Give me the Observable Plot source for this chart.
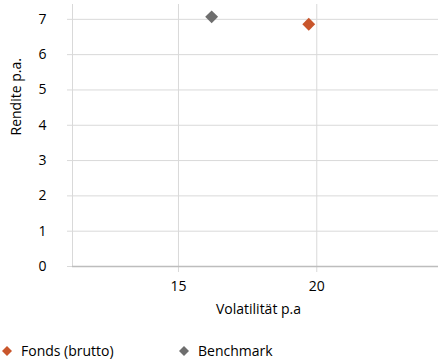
<!DOCTYPE html>
<html>
<head>
<meta charset="utf-8">
<script src="https://cdn.jsdelivr.net/npm/d3@7"></script>
<script src="https://cdn.jsdelivr.net/npm/@observablehq/plot@0.6"></script>
<style>
  body { margin: 0; background: #fff; font-family: "Open Sans", sans-serif; }
  #chart svg { display: block; }
  .legend { position: relative; height: 20px; padding-top: 1px; font-size: 14px; color: #000; }
  .legend .item { position: absolute; top: 1px; line-height: 20px; display: flex; align-items: center; }
  .legend svg { margin-right: 8px; }
</style>
</head>
<body>
<div id="chart"></div>
<div class="legend" id="legend"></div>
<script>
const series = ["Fonds (brutto)", "Benchmark"];
const volatility = [19.71, 16.2];
const returns = [6.86, 7.07];
const colors = ["#C9562C", "#6E6E6E"];
const yTicks = [0, 1, 2, 3, 4, 5, 6, 7];
const xTicks = [15, 20];
const xLabel = "Volatilität p.a";
const yLabel = "Rendite p.a.";

const data = series.map((s, i) => ({series: s, vol: volatility[i], ret: returns[i]}));
const xDomain = [11.17, 24.4];
const yDomain = [0, 7.42];

const chart = Plot.plot({
  width: 439,
  height: 340,
  marginLeft: 72,
  marginRight: 1,
  marginTop: 4,
  marginBottom: 74,
  style: {fontFamily: "'Open Sans', sans-serif", fontSize: "14px", color: "#000", background: "#fff"},
  x: {domain: xDomain},
  y: {domain: yDomain},
  color: {domain: series, range: colors},
  marks: [
    Plot.gridY(yTicks, {stroke: "#d9d9d9", strokeOpacity: 1}),
    Plot.gridX(xTicks, {stroke: "#d9d9d9", strokeOpacity: 1}),
    Plot.axisY(yTicks, {tickSize: 5, tickPadding: 21, stroke: "#d9d9d9", fill: "#000", label: null, tickFormat: d => d}),
    Plot.axisX(xTicks, {tickSize: 6, tickPadding: 9, stroke: "#d9d9d9", fill: "#000", label: null, tickFormat: d => d}),
    Plot.ruleX([xDomain[0]], {stroke: "#d9d9d9"}),
    Plot.ruleY([0], {stroke: "#bdbdbd", strokeWidth: 1.5}),
    Plot.dot(data, {x: "vol", y: "ret", symbol: "diamond2", fill: "series", r: 5.8}),
    Plot.text([xLabel], {frameAnchor: "bottom", dy: 47, dx: 3, fill: "#000"}),
    Plot.text([yLabel], {frameAnchor: "left", dx: -56, rotate: -90, fill: "#000"})
  ]
});
document.getElementById("chart").appendChild(chart);

const legend = document.getElementById("legend");
const lefts = [1, 178];
series.forEach((s, i) => {
  const item = document.createElement("div");
  item.className = "item";
  item.style.left = lefts[i] + "px";
  item.innerHTML = `<svg width="12" height="12" viewBox="-6 -6 12 12"><polygon points="0,-5 5,0 0,5 -5,0" fill="${colors[i]}"/></svg><span>${s}</span>`;
  legend.appendChild(item);
});
</script>
</body>
</html>
